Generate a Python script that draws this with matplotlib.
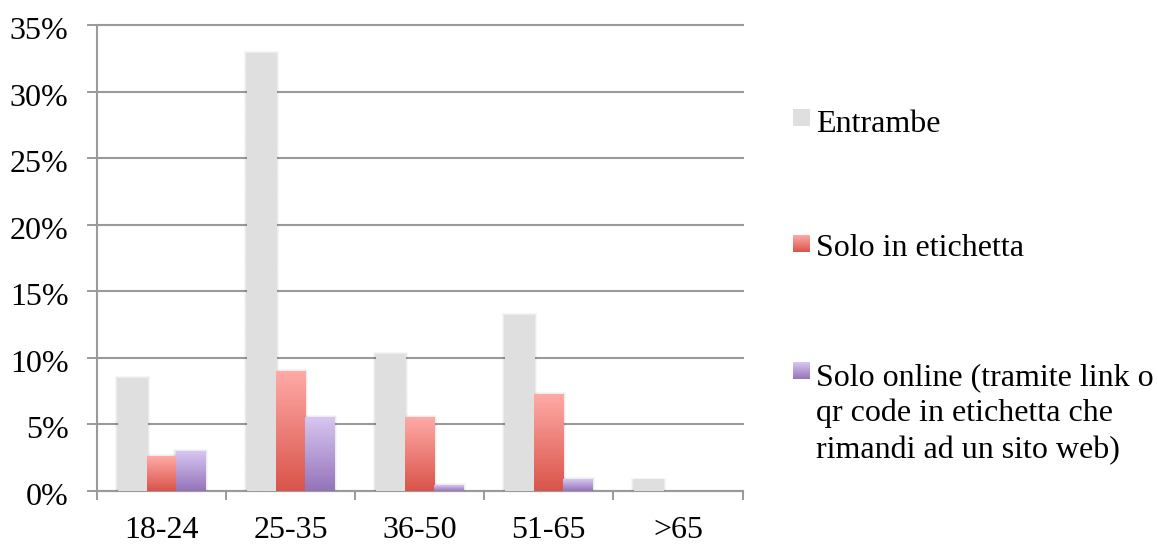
import numpy as np
import matplotlib
matplotlib.use("Agg")
import matplotlib.pyplot as plt
import matplotlib.patheffects as pe
import matplotlib.transforms as mtransforms
from matplotlib.colors import LinearSegmentedColormap

plt.rcParams['font.family'] = ['Liberation Serif', 'DejaVu Serif']

# ---- data -------------------------------------------------------------
categories = ['18-24', '25-35', '36-50', '51-65', '>65']
series_names = ['Entrambe',
                'Solo in etichetta',
                'Solo online (tramite link o\nqr code in etichetta che\nrimandi ad un sito web)']
entrambe = [8.5, 32.9, 10.25, 13.2, 0.85]
solo_etichetta = [2.6, 9.0, 5.55, 7.25, 0.0]
solo_online = [3.0, 5.55, 0.43, 0.88, 0.0]
y_ticks = [0, 5, 10, 15, 20, 25, 30, 35]

series_values = [entrambe, solo_etichetta, solo_online]
# (top colour, bottom colour) of each series' vertical gradient
series_colors = [('#dfdfdf', '#dfdfdf'),
                 ('#ffaaa6', '#d9544a'),
                 ('#d8c6f2', '#9474b9')]

AXIS_GREY = '#9a9a9a'
FS = 23

fig = plt.figure(figsize=(11.58, 5.45), dpi=100)
ax = fig.add_axes([0.0835, 0.0996, 0.5577, 0.8545])

n_cat = len(categories)
x = np.arange(n_cat)
bar_w = 0.225
offsets = [-bar_w, 0.0, bar_w]

shadow = [pe.Stroke(linewidth=4.5, foreground='#000000', alpha=0.03, offset=(0, -0.8)),
          pe.Stroke(linewidth=3.0, foreground='#000000', alpha=0.04, offset=(0, -0.8)),
          pe.Stroke(linewidth=1.5, foreground='#000000', alpha=0.05, offset=(0, -0.8)),
          pe.Normal()]

grad = np.linspace(1, 0, 256).reshape(-1, 1)
for vals, (c_top, c_bot), off in zip(series_values, series_colors, offsets):
    cmap = LinearSegmentedColormap.from_list('g', [c_bot, c_top])
    bars = ax.bar(x + off, vals, width=bar_w, color=c_bot, linewidth=0, zorder=3)
    for b, v in zip(bars, vals):
        if v <= 0:
            b.set_visible(False)
            continue
        b.set_path_effects(shadow)
        x0 = b.get_x()
        im = ax.imshow(grad, cmap=cmap, vmin=0, vmax=1, aspect='auto',
                       extent=(x0, x0 + b.get_width(), 0, v),
                       interpolation='bilinear', zorder=4)
        im.set_clip_path(b)

ax.set_xlim(-0.5, n_cat - 0.5)
ax.set_ylim(0, 35)

# y axis
ax.set_yticks(y_ticks)
ax.set_yticklabels([f'{t}%' for t in y_ticks])
ax.tick_params(axis='y', direction='out', length=7.2, width=1.4,
               color=AXIS_GREY, labelsize=FS, pad=13)
nudge = mtransforms.ScaledTranslation(0, -3 / 100, fig.dpi_scale_trans)
for lbl in ax.get_yticklabels():
    lbl.set_transform(lbl.get_transform() + nudge)
ax.yaxis.grid(True, color=AXIS_GREY, linewidth=1.5, zorder=1)
for gl in ax.get_ygridlines():
    gl.set_clip_on(False)
ax.set_axisbelow(True)

# x axis: tick marks between categories, labels at category centres
ax.set_xticks(np.arange(n_cat + 1) - 0.5)
ax.set_xticklabels([])
ax.set_xticks(x, minor=True)
ax.set_xticklabels(categories, minor=True)
ax.tick_params(axis='x', which='major', direction='out', length=6.5,
               width=1.4, color=AXIS_GREY)
ax.tick_params(axis='x', which='minor', length=0, labelsize=FS, pad=18)

for side in ('top', 'right'):
    ax.spines[side].set_visible(False)
for side in ('left', 'bottom'):
    ax.spines[side].set_color(AXIS_GREY)
    ax.spines[side].set_linewidth(1.5)

# legend: coloured square followed by the series name (one text per line)
W, H = 1158.0, 545.0
legend_rows = [(109, 131.5), (235, 256.5), (362, 385)]
line_step = 36.5
for name, (c_top, c_bot), (sq_top, base) in zip(series_names, series_colors, legend_rows):
    sq = 17
    lax = fig.add_axes([793 / W, 1 - (sq_top + sq) / H, sq / W, sq / H])
    cmap = LinearSegmentedColormap.from_list('g', [c_bot, c_top])
    lax.imshow(grad, cmap=cmap, vmin=0, vmax=1, aspect='auto',
               interpolation='bilinear')
    lax.set_axis_off()
    for i, line in enumerate(name.split('\n')):
        fig.text(816.5 / W, 1 - (base + i * line_step) / H, line, fontsize=FS,
                 va='baseline', ha='left')

fig.savefig('out.png', dpi=100)
